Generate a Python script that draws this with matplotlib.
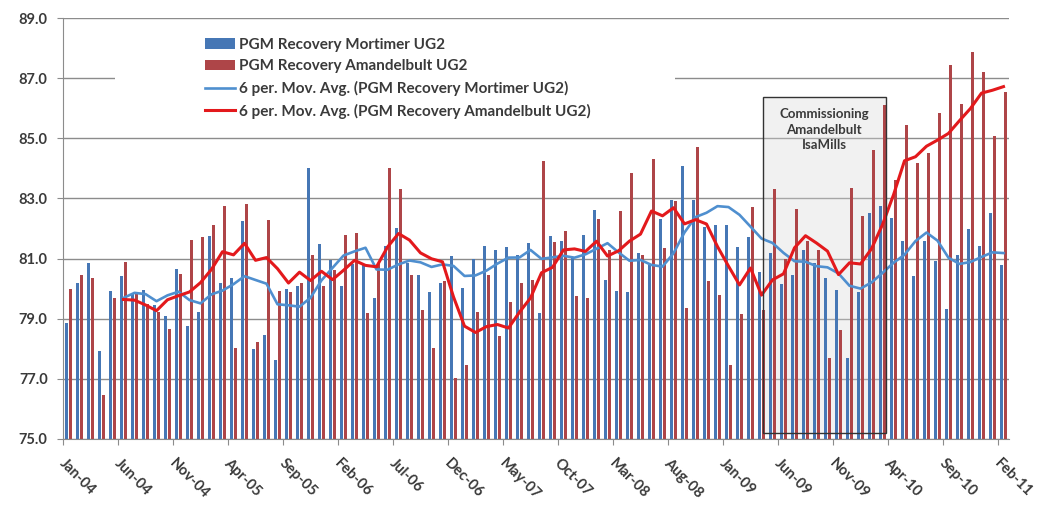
import numpy as np
import pandas as pd
import matplotlib
matplotlib.use("Agg")
import matplotlib.pyplot as plt
from matplotlib.patches import Patch, Rectangle
from matplotlib.lines import Line2D

# monthly PGM recovery, Jan-04 .. Feb-11
months = pd.date_range("2004-01-01", periods=86, freq="MS")

mortimer = [78.86, 80.19, 80.85, 77.92, 79.91, 80.42, 79.87, 79.94, 79.44, 79.08,
            80.64, 78.75, 79.21, 81.74, 80.19, 80.36, 82.24, 77.99, 78.47, 77.63,
            79.99, 80.08, 84.02, 81.47, 80.95, 80.09, 80.83, 80.80, 79.69, 81.41,
            82.02, 80.86, 80.47, 79.88, 80.20, 81.10, 80.02, 80.97, 81.43, 81.28,
            81.39, 81.13, 81.52, 79.19, 81.74, 81.58, 81.02, 81.80, 82.63, 80.30,
            79.91, 79.90, 81.19, 80.80, 82.30, 82.95, 84.08, 82.95, 82.06, 82.12,
            82.12, 81.40, 81.73, 80.57, 81.18, 80.14, 80.45, 81.30, 80.84, 80.34,
            79.96, 77.69, 79.88, 82.52, 82.74, 82.36, 81.58, 80.41, 81.58, 80.91,
            79.32, 81.13, 81.97, 81.41, 82.50, 80.77]

amandelbult = [79.99, 80.46, 80.35, 76.47, 79.69, 80.88, 79.86, 79.49, 79.21, 78.65,
               80.50, 81.63, 81.72, 82.13, 82.74, 78.02, 82.80, 78.24, 82.27, 79.91,
               79.88, 80.19, 81.13, 80.08, 80.61, 81.77, 81.86, 79.19, 80.85, 84.02,
               83.30, 80.47, 79.30, 78.02, 80.24, 77.02, 77.47, 79.21, 80.47, 78.43,
               79.54, 80.19, 80.30, 84.24, 81.55, 81.91, 79.74, 79.69, 82.32, 81.30,
               82.58, 83.86, 81.13, 84.30, 81.36, 82.91, 79.36, 84.70, 80.27, 79.79,
               77.46, 79.16, 82.73, 79.30, 83.31, 81.00, 82.64, 81.58, 81.27, 77.68,
               78.63, 83.36, 82.40, 84.61, 86.10, 83.60, 85.44, 84.17, 84.50, 85.83,
               87.44, 86.14, 87.88, 87.22, 85.08, 86.55]

tick_labels = ["Jan-04", "Jun-04", "Nov-04", "Apr-05", "Sep-05", "Feb-06", "Jul-06",
               "Dec-06", "May-07", "Oct-07", "Mar-08", "Aug-08", "Jan-09", "Jun-09",
               "Nov-09", "Apr-10", "Sep-10", "Feb-11"]

df = pd.DataFrame({"mortimer": mortimer, "amandelbult": amandelbult}, index=months)
ma_mort = df["mortimer"].rolling(6).mean()
ma_aman = df["amandelbult"].rolling(6).mean()

plt.rcParams["font.family"] = ["Lato", "DejaVu Sans"]
txt_col = "#3A3A3A"
blue, red = "#4677B5", "#AE4548"

fig = plt.figure(figsize=(10.46, 5.05), dpi=100)
ax = fig.add_axes([63 / 1046, 66 / 505, 946 / 1046, 421 / 505])

x = np.arange(len(df))
ax.bar(x - 0.14, df["mortimer"], width=0.27, color=blue, zorder=2)
ax.bar(x + 0.14, df["amandelbult"], width=0.27, color=red, zorder=2)
ax.plot(x, ma_mort, color="#4F8FCF", linewidth=1.9, zorder=4)
ax.plot(x, ma_aman, color="#E3191C", linewidth=2.2, zorder=5)

ax.set_xlim(-0.5, len(df) - 0.5)
ax.set_ylim(75, 89)
ax.set_yticks(np.arange(75, 89.1, 2))
ax.set_yticklabels([f"{v:.1f}" for v in np.arange(75, 89.1, 2)])
ax.grid(axis="y", color="#8C8C8C", linewidth=1.0)
ax.set_axisbelow(True)

# category ticks every 5 months, labels rotated like the workbook
ax.set_xticks(np.arange(0, len(df), 5) - 0.5)
ax.set_xticklabels([])
for k, lab in enumerate(tick_labels):
    ax.text(k * 5 - 0.2, -0.04, lab, transform=ax.get_xaxis_transform(),
            rotation=-45, rotation_mode="anchor", ha="left", va="top",
            fontsize=10.5, fontweight="bold", color=txt_col)

ax.tick_params(axis="x", length=4, color="#8C8C8C")
ax.tick_params(axis="y", length=4, pad=7, color="#8C8C8C", labelsize=10.5,
               labelcolor=txt_col)
for lab in ax.get_yticklabels():
    lab.set_fontweight("bold")
for s in ["top", "right"]:
    ax.spines[s].set_visible(False)
for s in ["left", "bottom"]:
    ax.spines[s].set_color("#8C8C8C")

# white legend background hiding gridline
ax.add_patch(Rectangle((4.2, 85.2), 50.9, 3.6, facecolor="white", edgecolor="none", zorder=1))

# commissioning period
ax.add_patch(Rectangle((63.1, 75.2), 11.2, 11.17, facecolor="#D9D9D9", alpha=0.35,
                       edgecolor="none", zorder=1.5))
ax.add_patch(Rectangle((63.1, 75.2), 11.2, 11.17, facecolor="none",
                       edgecolor="#333333", linewidth=1.0, zorder=6))
ax.text(68.7, 86.0, "Commissioning\nAmandelbult\nIsaMills", ha="center", va="top",
        fontsize=9.5, fontweight="bold", color=txt_col, linespacing=1.35, zorder=7)

handles = [Patch(facecolor=blue), Patch(facecolor=red),
           Line2D([], [], color="#4F8FCF", linewidth=1.9),
           Line2D([], [], color="#E3191C", linewidth=2.2)]
labels = ["PGM Recovery Mortimer UG2", "PGM Recovery Amandelbult UG2",
          "6 per. Mov. Avg. (PGM Recovery Mortimer UG2)",
          "6 per. Mov. Avg. (PGM Recovery Amandelbult UG2)"]
leg = fig.legend(handles, labels, loc="upper left", bbox_to_anchor=(197 / 1046, 1 - 30 / 505),
                 frameon=False, borderpad=0, handlelength=2.0, handletextpad=0.25,
                 labelspacing=0.5, prop={"size": 11, "weight": "bold"})
for t in leg.get_texts():
    t.set_color(txt_col)

fig.savefig("out.png", dpi=100)
